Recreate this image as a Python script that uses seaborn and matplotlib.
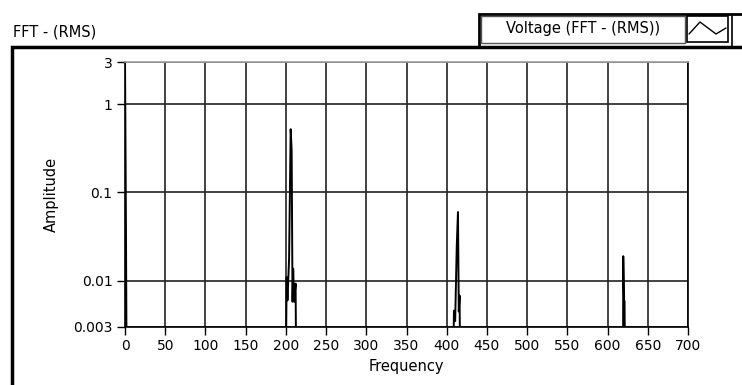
import seaborn as sns
import matplotlib.pyplot as plt
from matplotlib.patches import Rectangle
from matplotlib.lines import Line2D

# spectrum points (values below 0.003 sit off the scale)
freq = [0, 1.2, 2.5, 196, 199, 201, 202, 204, 206, 207.2, 208.3,
        209.1, 210.3, 212.1, 213.5, 300, 406.5, 409, 410.5, 412.5, 414, 415,
        416, 417.5, 520, 616.5, 619, 619.5, 620.5, 621.1, 622.5, 700]
amp = [3.5, 0.038, 1e-4, 1e-4, 1e-4, 0.011, 0.006, 0.0176, 0.52, 0.30, 0.0058,
       0.0137, 0.0058, 0.0093, 1e-4, 1e-4, 1e-4, 0.0046, 0.0035, 0.025, 0.06,
       0.0045, 0.0068, 1e-4, 1e-4, 1e-4, 1e-4, 0.019, 0.0059, 0.0059, 1e-4, 1e-4]

x_ticks = list(range(0, 701, 50))
y_ticks = [0.003, 0.01, 0.1, 1, 3]
y_labels = ['0.003', '0.01', '0.1', '1', '3']

sns.set_style('white')
plt.rcParams['font.family'] = ['DejaVu Sans']
plt.rcParams['font.size'] = 10
plt.rcParams['text.color'] = 'black'
plt.rcParams['axes.labelcolor'] = 'black'
plt.rcParams['xtick.color'] = 'black'
plt.rcParams['ytick.color'] = 'black'

W, H = 742, 385
fig = plt.figure(figsize=(W / 100, H / 100), dpi=100)
fig.patch.set_facecolor('white')


def fx(x):
    return x / W


def fy(y):
    return 1 - y / H


ax = fig.add_axes([fx(125), fy(327), fx(688) - fx(125), fy(62) - fy(327)])
sns.lineplot(x=freq, y=amp, ax=ax, color='black', linewidth=1.4,
             estimator=None, sort=False)
ax.set_yscale('log')
ax.set_xlim(0, 700)
ax.set_ylim(0.003, 3)
ax.set_xticks(x_ticks)
ax.set_xticklabels([str(t) for t in x_ticks])
ax.set_yticks(y_ticks)
ax.set_yticklabels(y_labels)
ax.minorticks_off()
ax.tick_params(direction='out', length=6, width=1, color='black', pad=3,
               labelsize=10, left=True, bottom=True)
ax.grid(True, color='#222222', linewidth=1.2)
ax.set_axisbelow(True)
for side in ['left', 'bottom', 'right']:
    ax.spines[side].set_color('black')
    ax.spines[side].set_linewidth(1.2)
ax.spines['top'].set_color('#a0a0a0')
ax.spines['top'].set_linewidth(1.2)
ax.set_xlabel('Frequency', fontsize=10.5, labelpad=4)
ax.set_ylabel('Amplitude', fontsize=10.5, labelpad=10)

# outer panel frame
fig.add_artist(Rectangle((fx(12), fy(H + 10)), fx(W + 10), fy(47) - fy(H + 10),
                         transform=fig.transFigure, fill=False,
                         edgecolor='black', linewidth=2.5))

# title
fig.text(fx(13), fy(32), 'FFT - (RMS)', fontsize=10.5, va='center', ha='left')

# legend header
fig.add_artist(Rectangle((fx(479), fy(47)), fx(W + 10) - fx(479), fy(14) - fy(47),
                         transform=fig.transFigure, fill=False,
                         edgecolor='black', linewidth=2))
fig.add_artist(Rectangle((fx(481), fy(43)), fx(685) - fx(481), fy(16) - fy(43),
                         transform=fig.transFigure, facecolor='white',
                         edgecolor='#555555', linewidth=1))
fig.text(fx(583), fy(29), 'Voltage (FFT - (RMS))', fontsize=10.5,
         va='center', ha='center')
fig.add_artist(Rectangle((fx(687), fy(42)), fx(728) - fx(687), fy(16) - fy(42),
                         transform=fig.transFigure, facecolor='white',
                         edgecolor='black', linewidth=1.2))
fig.add_artist(Line2D([fx(689), fx(700), fx(716), fx(726)],
                      [fy(34), fy(22), fy(34), fy(28)],
                      transform=fig.transFigure, color='black', linewidth=1))
fig.add_artist(Line2D([fx(732), fx(732)], [fy(16), fy(46)],
                      transform=fig.transFigure, color='black', linewidth=1.2))

fig.savefig('out.png', dpi=100)
